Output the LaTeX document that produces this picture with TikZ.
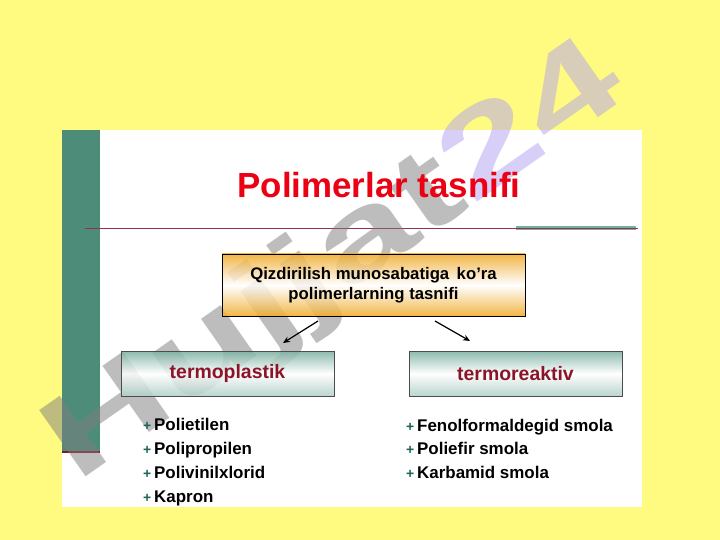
\documentclass[tikz,border=0pt]{standalone}
\usepackage{fontspec}
\setmainfont{Liberation Sans}
\usetikzlibrary{arrows.meta}
\definecolor{bgyellow}{RGB}{255,250,128}
\definecolor{barteal}{RGB}{78,140,122}
\definecolor{linered}{RGB}{150,50,70}
\definecolor{titlered}{RGB}{235,0,20}
\definecolor{boxorange}{RGB}{240,170,40}
\definecolor{boxteal}{RGB}{120,175,160}
\definecolor{darkred}{RGB}{140,20,40}
\definecolor{plusteal}{RGB}{30,100,90}
\definecolor{wmgray}{RGB}{125,125,125}
\definecolor{wmblue}{RGB}{177,161,241}
\tikzset{
  topbox/.style={draw=black, line width=1pt, top color=boxorange, bottom color=boxorange, middle color=white, minimum width=303bp, minimum height=62bp, align=center, inner sep=0pt, font=\bfseries\fontsize{16.8}{19.5}\selectfont},
  catbox/.style={draw=black!70, line width=1pt, top color=boxteal, bottom color=boxteal!60, middle color=white, minimum width=213bp, minimum height=45bp, inner sep=0pt, text=darkred, font=\bfseries\fontsize{19.5}{22}\selectfont},
  item/.style={anchor=base west, inner sep=0pt, font=\bfseries\fontsize{17}{19}\selectfont},
  arr/.style={-{Stealth[length=7bp,width=6bp]}, line width=1.2pt},
  watermark/.style={rotate=35, xscale=1.48, text opacity=0.5, font=\bfseries\fontsize{118}{118}\selectfont},
}
\newcommand{\plusb}{{\color{plusteal}\fontsize{14}{14}\selectfont+}\,}
\begin{document}
\begin{tikzpicture}[x=1bp,y=-1bp]
\useasboundingbox (0,0) rectangle (720,540);
\fill[bgyellow] (0,0) rectangle (720,540);
\fill[white] (62,130) rectangle (642,507);
\fill[barteal] (62,130) rectangle (100,452);
\draw[darkred, line width=1.5pt] (62,452) -- (100,452);
\draw[linered, line width=0.9pt] (85,228) -- (638,228);
\draw[boxteal, line width=5pt] (516,228) -- (636,228);
\draw[linered, line width=0.9pt] (516,228) -- (636,228);
\node[watermark] (wm) at (336,264) {\color{wmgray}Hujjat\color{wmblue}24};
\node[text=titlered, font=\bfseries\fontsize{35}{40}\selectfont] (title) at (379,185) {Polimerlar tasnifi};
\node[topbox, fill opacity=0.85, text opacity=1] (top) at (373.5,285) {Qizdirilish munosabatiga\, ko’ra\\polimerlarning tasnifi};
\node[catbox, fill opacity=0.85, text opacity=1] (tp) at (227.5,373.5) {termoplastik};
\node[catbox, fill opacity=0.85, text opacity=1] (tr) at (515.5,373.5) {termoreaktiv};
\coordinate (a1s) at (318,321);
\coordinate (a1e) at (283,343);
\coordinate (a2s) at (435,321);
\coordinate (a2e) at (470,341);
\draw[arr] (a1s) -- (a1e);
\draw[arr] (a2s) -- (a2e);
\node[item] (l1) at (143,430) {\plusb Polietilen};
\node[item] (l2) at (143,454) {\plusb Polipropilen};
\node[item] (l3) at (143,478) {\plusb Polivinilxlorid};
\node[item] (l4) at (143,502) {\plusb Kapron};
\node[item] (r1) at (406,431) {\plusb Fenolformaldegid smola};
\node[item] (r2) at (406,454) {\plusb Poliefir smola};
\node[item] (r3) at (406,478) {\plusb Karbamid smola};
\end{tikzpicture}
\end{document}
